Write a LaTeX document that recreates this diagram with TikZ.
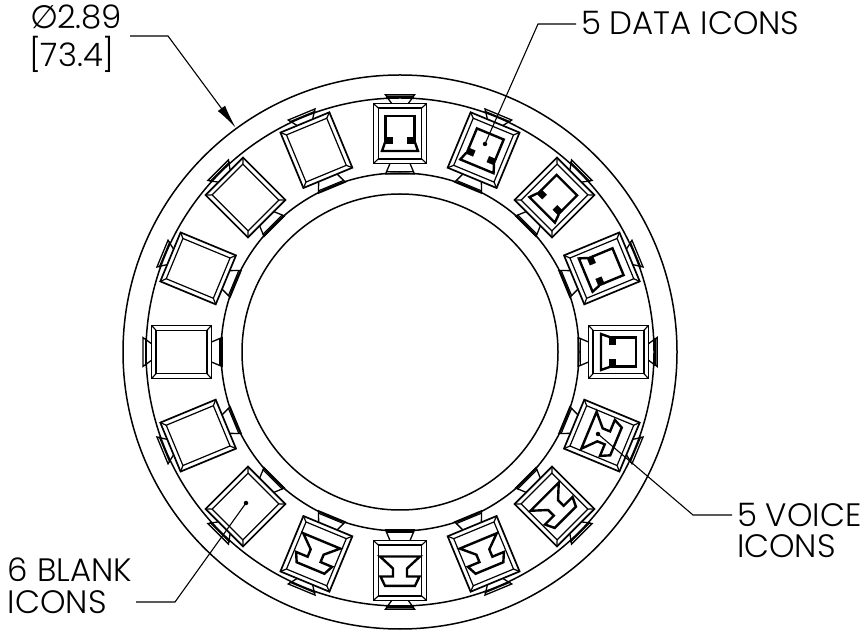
\documentclass[tikz,border=0pt]{standalone}
\usepackage{fontspec}
\usetikzlibrary{arrows.meta}
\setmainfont{Poppins Light}
\newfontfamily\symfont{DejaVu Sans}
\tikzset{
  ring/.style={draw=black,line width=1.5pt},
  iconline/.style={draw=black,line width=1.7pt,line join=miter},
  trapline/.style={draw=black,line width=1.3pt,line join=miter},
  bevel/.style={draw=black,line width=1.2pt},
  glyph/.style={draw=black,line width=2.4pt,line join=miter},
  blockfill/.style={draw=black,fill=black,line width=0.3pt},
  leader/.style={draw=black,line width=1.1pt},
  lbl/.style={anchor=base west,inner sep=0pt,outer sep=0pt,font=\fontsize{32.4}{32.4}\selectfont,text=black},
  target/.style={circle,fill=black,draw=none,minimum size=4.5pt,inner sep=0pt}
}
\newcommand{\iconframe}{%
  \draw[bevel] (-21.8,-25.5) rectangle (21.8,25.5);
  \draw[bevel] (-26.5,-30)--(-21.8,-25.5) (26.5,-30)--(21.8,-25.5) (-26.5,30)--(-21.8,25.5) (26.5,30)--(21.8,25.5);
  \draw[iconline] (-26.5,-30) rectangle (26.5,30);
  \draw[trapline] (-8.3,30)--(-14.5,38.6)--(14.5,38.6)--(8.3,30);
  \draw[bevel] (-14,36.4)--(14,36.4);
  \draw[trapline] (-10,-30)--(-14.5,-40.6)--(14.5,-40.6)--(10,-30);
  \draw[bevel] (-14,-38.4)--(14,-38.4);
}
\newcommand{\dataglyph}{%
  \draw[glyph] (-14.5,-4)--(-14.5,17.5)--(14.5,17.5)--(14.5,-4);
  \draw[glyph] (-15,-9)--(-18,-17.5)--(18,-17.5)--(15,-9);
  \path[blockfill] (-15.5,-3.6) rectangle (-7.5,-9.8);
  \path[blockfill] (15.5,-3.6) rectangle (7.5,-9.8);
}
\newcommand{\voiceglyph}{%
  \draw[glyph] (-20,14)--(20,14)--(7,2)--(7,-6)--(19.5,-6)--(15,-15.3)--(-15,-15.3)--(-19.5,-6)--(-7,-6)--(-7,2)--cycle;
}
\begin{document}
\begin{tikzpicture}[x=1pt,y=1pt]
\useasboundingbox (0,0) rectangle (867,629);
\coordinate (c) at (400,277);
\foreach \r in {277,254,179,158} {\draw[ring] (c) circle[radius=\r];}
% data icons
\foreach \a in {0,22.5,45,67.5,90} {
  \begin{scope}[shift={(c)},rotate=-\a]
    \begin{scope}[shift={(0,218.5)}]\iconframe\dataglyph\end{scope}
  \end{scope}
}
% voice icons
\foreach \a in {112.5,135,157.5,180,202.5} {
  \begin{scope}[shift={(c)},rotate=-\a]
    \begin{scope}[shift={(0,218.5)}]\iconframe
      \begin{scope}[rotate=180]\voiceglyph\end{scope}
    \end{scope}
  \end{scope}
}
% blank icons
\foreach \a in {225,247.5,270,292.5,315,337.5} {
  \begin{scope}[shift={(c)},rotate=-\a]
    \begin{scope}[shift={(0,218.5)}]\iconframe\end{scope}
  \end{scope}
}
% labels
\node[lbl] (dia) at (30,600) {\makebox[27pt][l]{\symfont ∅}2.89};
\node[lbl] (met) at (29,562) {[73.4]};
\node[lbl] (datat) at (581,594) {5 DATA ICONS};
\node[lbl] (voicet) at (737,102) {5 VOICE};
\node[lbl] (voicet2) at (737,71) {ICONS};
\node[lbl] (blankt) at (8,47) {6 BLANK};
\node[lbl] (blankt2) at (8,16) {ICONS};
% leader ends
\coordinate (diaS) at (130,593);
\coordinate (diaK) at (168,593);
\coordinate (diaE) at (235.7,501.3);
\coordinate (dataS) at (576,605);
\coordinate (dataK) at (538,605);
\node[target] (dataD) at (485,485) {};
\coordinate (voiceS) at (732,114);
\coordinate (voiceK) at (693,114);
\node[target] (voiceD) at (598,195) {};
\coordinate (blankS) at (136,27);
\coordinate (blankK) at (175,27);
\node[target] (blankD) at (246,126) {};
\draw[leader,-{Latex[length=24pt,width=9pt]}] (diaS)--(diaK)--(diaE);
\draw[leader] (dataS)--(dataK)--(dataD.center);
\draw[leader] (voiceS)--(voiceK)--(voiceD.center);
\draw[leader] (blankS)--(blankK)--(blankD.center);
\end{tikzpicture}
\end{document}
